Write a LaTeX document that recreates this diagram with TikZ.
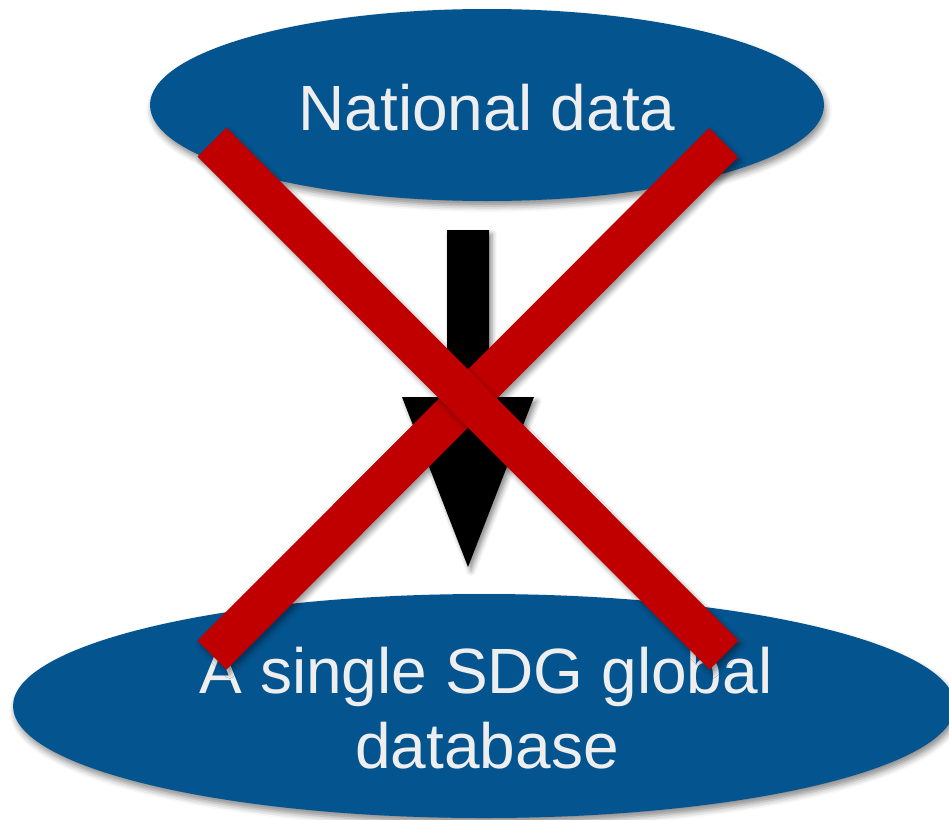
\documentclass[tikz,border=0pt]{standalone}
\usepackage{fontspec}
\setmainfont{Liberation Sans}
\usetikzlibrary{shapes.geometric,shadows.blur}
\definecolor{ovalblue}{HTML}{03548F}
\definecolor{crossred}{HTML}{C00000}
\definecolor{ovaltext}{HTML}{EEEEEE}
\tikzset{
  oval/.style={ellipse, fill=ovalblue, draw=none, inner sep=0pt,
    blur shadow={shadow xshift=2pt, shadow yshift=-5pt, shadow blur radius=6pt, shadow opacity=45}},
  ovallabel/.style={anchor=base, text=ovaltext, inner sep=0pt,
    font=\fontsize{64}{75}\selectfont},
  bigarrow/.style={fill=black, draw=none,
    blur shadow={shadow xshift=3pt, shadow yshift=-4pt, shadow blur radius=5pt, shadow opacity=45}},
  crossbar/.style={fill=crossred, draw=none,
    blur shadow={shadow xshift=3pt, shadow yshift=-4pt, shadow blur radius=5pt, shadow opacity=40}}
}
\begin{document}
\begin{tikzpicture}[x=1pt,y=-1pt]
\useasboundingbox (0,0) rectangle (949,819);
% ovals
\node[oval, minimum width=674pt, minimum height=192pt] (top) at (487,105) {};
\node[oval, minimum width=942pt, minimum height=224pt] (bottom) at (484,706) {};
\node[ovallabel] (toptext) at (487,130) {National data};
\node[ovallabel] (bottext1) at (486,693) {A single SDG global};
\node[ovallabel] (bottext2) at (487,768) {database};
% arrow
\path[bigarrow] (447,230) coordinate (s1) -- (489,230) -- (489,397) -- (534,397)
  -- (468,567) coordinate (tip) -- (402,397) -- (447,397) -- cycle;
% red cross
\path[crossbar] (709,128) -- (738,157) -- (226.5,669.5) -- (197.5,640.5) -- cycle;
\path[crossbar] (226.5,127.5) -- (738.5,640.5) -- (709.5,669.5) -- (197.5,156.5) -- cycle;
\end{tikzpicture}
\end{document}
